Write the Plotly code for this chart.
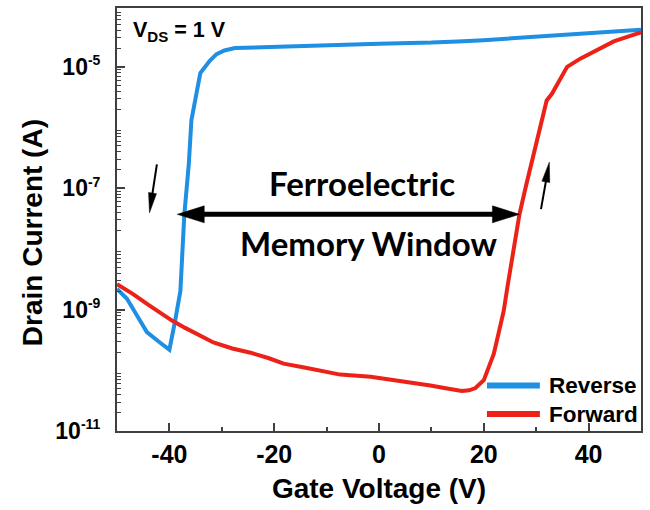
import math
import plotly.graph_objects as go

# ---------------- data ----------------
reverse_vg = [50, 45, 40, 35, 30, 25, 20, 15, 10, 0, -10, -18, -22, -25, -27.5, -29.5, -31, -32.3,
              -33.3, -34.1, -35.8, -36.3, -37.15, -37.55, -37.9, -38.9, -40.0, -41.7, -44.3,
              -46.5, -48.1, -50]
reverse_id = [4.07e-5, 3.8e-5, 3.55e-5, 3.3e-5, 3.09e-5, 2.92e-5, 2.75e-5, 2.63e-5, 2.51e-5, 2.4e-5,
              2.29e-5, 2.21e-5, 2.16e-5, 2.11e-5, 2.04e-5, 1.86e-5, 1.62e-5, 1.26e-5, 9.5e-6, 7.9e-6,
              1.32e-6, 2.5e-7, 3.7e-8, 6.3e-9, 2.04e-9, 6.6e-10, 2.19e-10, 2.82e-10, 4.27e-10,
              8.9e-10, 1.51e-9, 2.19e-9]

forward_vg = [-50, -47, -44, -41, -39.5, -37, -34, -31.6, -28, -24.5, -21, -18.2, -14, -10, -7.4,
              -1.6, 4.7, 9.8, 13, 15.8, 17.2, 18.4, 20.0, 21.0, 21.9, 22.8, 23.8, 24.5, 25.4, 26.8,
              28.0, 28.9, 30.0, 30.8, 32.0, 33.0, 34.0, 35.9, 38.5, 41.0, 44.8, 47.5, 50]
forward_id = [2.63e-9, 1.82e-9, 1.2e-9, 8.1e-10, 6.6e-10, 5.0e-10, 3.7e-10, 2.88e-10, 2.29e-10,
              1.95e-10, 1.58e-10, 1.29e-10, 1.1e-10, 9.3e-11, 8.5e-11, 7.8e-11, 6.6e-11, 5.6e-11,
              5.0e-11, 4.57e-11, 4.68e-11, 5.1e-11, 6.9e-11, 1.12e-10, 1.86e-10, 4.0e-10, 9.5e-10,
              2.34e-9, 7.1e-9, 3.7e-8, 1.05e-7, 2.14e-7, 5.4e-7, 1.1e-6, 2.8e-6, 3.6e-6, 5.0e-6,
              1.0e-5, 1.38e-5, 1.78e-5, 2.63e-5, 3.16e-5, 3.7e-5]

series_names = ["Reverse", "Forward"]
x_tick_vals = [-40, -20, 0, 20, 40]
x_tick_text = ["-40", "-20", "0", "20", "40"]
y_decades = list(range(-11, -3))
y_labelled = [-11, -9, -7, -5]

# ---------------- style ----------------
BLUE = "#1E8FE3"
RED = "#EC2218"
AXIS = "#404040"
FONT = "Liberation Sans, Arial, sans-serif"
ANNOT_FONT = "Lato, Open Sans, sans-serif"
Y_RANGE = [-11, -4.03]

fig = go.Figure()
fig.add_trace(go.Scatter(x=reverse_vg, y=reverse_id, mode="lines", name=series_names[0],
                         line=dict(color=BLUE, width=4), showlegend=False))
fig.add_trace(go.Scatter(x=forward_vg, y=forward_id, mode="lines", name=series_names[1],
                         line=dict(color=RED, width=4), showlegend=False))

y_tickvals = [10.0 ** e for e in y_labelled]
y_ticktext = [f"10<sup><span style='font-size:14px'>{e}</span></sup>" for e in y_labelled]
y_plain_decades = [10.0 ** e for e in y_decades if e not in y_labelled]
y_minor = [k * 10.0 ** e for e in y_decades[:-1] for k in range(2, 10)]

fig.update_xaxes(range=[-50, 50], tickmode="array", tickvals=x_tick_vals, ticktext=x_tick_text,
                 ticks="inside", ticklen=8, tickwidth=1.5, tickcolor=AXIS,
                 minor=dict(dtick=10, ticks="inside", ticklen=4, tickwidth=1.5, tickcolor=AXIS),
                 showline=True, linecolor=AXIS, linewidth=2, mirror=True, showgrid=False,
                 zeroline=False, ticklabelstandoff=0,
                 tickfont=dict(family=FONT, size=25, color="black", weight="bold"),
                 title=dict(text="Gate Voltage (V)", standoff=11,
                            font=dict(family=FONT, size=28, color="black", weight="bold")))
fig.update_yaxes(type="log", range=Y_RANGE, tickmode="array", tickvals=y_tickvals,
                 ticktext=y_ticktext, ticks="inside", ticklen=8, tickwidth=1.5, tickcolor=AXIS,
                 minor=dict(tickmode="array", tickvals=y_minor, ticks="inside", ticklen=4,
                            tickwidth=1.2, tickcolor=AXIS),
                 showline=True, linecolor=AXIS, linewidth=2, mirror=True, showgrid=False,
                 zeroline=False, ticklabelstandoff=10,
                 tickfont=dict(family=FONT, size=23, color="black", weight="bold"))

# unlabelled decade ticks (long ticks at 1e-10, 1e-8, 1e-6)
fig.update_layout(yaxis2=dict(overlaying="y", side="left", type="log", range=Y_RANGE,
                              tickmode="array", tickvals=y_plain_decades, ticks="inside",
                              ticklen=8, tickwidth=1.5, tickcolor=AXIS, showticklabels=False,
                              showline=False, showgrid=False, zeroline=False))


def arrow_shapes(tip_x, tip_y, dx, dy, head_len, head_w, lw, color="black"):
    """Arrow whose tip is at data point (tip_x, tip_y); tail offset (dx, dy) in pixels (y up)."""
    L = math.hypot(dx, dy)
    ux, uy = dx / L, dy / L
    nx, ny = -uy, ux
    bx, by = ux * head_len, uy * head_len
    c1 = (bx + nx * head_w / 2, by + ny * head_w / 2)
    c2 = (bx - nx * head_w / 2, by - ny * head_w / 2)
    common = dict(type="path", xref="x", yref="y", xsizemode="pixel", ysizemode="pixel",
                  xanchor=tip_x, yanchor=tip_y)
    shapes = []
    if L > head_len:
        shapes.append(dict(path=f"M{bx * 0.6:.2f},{by * 0.6:.2f} L{dx:.2f},{dy:.2f}",
                           line=dict(color=color, width=lw), **common))
    shapes.append(dict(path=f"M0,0 L{c1[0]:.2f},{c1[1]:.2f} L{c2[0]:.2f},{c2[1]:.2f} Z",
                       fillcolor=color, line=dict(color=color, width=0.5), **common))
    return shapes


# memory-window double arrow
mw_left, mw_right, mw_level = -38.5, 26.8, 10 ** -7.43
shapes = [dict(type="line", xref="x", yref="y", x0=mw_left + 2, x1=mw_right - 2,
               y0=mw_level, y1=mw_level, line=dict(color="black", width=5))]
shapes += arrow_shapes(mw_left, mw_level, 1, 0, 27, 17, 5)
shapes += arrow_shapes(mw_right, mw_level, -1, 0, 27, 17, 5)
# sweep direction arrows
shapes += arrow_shapes(-43.8, 10 ** -7.405, 7.4, 48.4, 20, 8, 2)
shapes += arrow_shapes(32.5, 10 ** -6.57, -8.3, -47, 20, 8, 2)

# custom legend samples (paper coords)
legend_rows = [(series_names[0], BLUE, 0.1075), (series_names[1], RED, 0.04)]
annotations = []
for name, col, yy in legend_rows:
    shapes.append(dict(type="line", xref="paper", yref="paper", x0=0.706, x1=0.807, y0=yy, y1=yy,
                       line=dict(color=col, width=6)))
    annotations.append(dict(text=name, xref="paper", yref="paper", x=0.8206, y=yy,
                            xanchor="left", yanchor="middle", showarrow=False,
                            font=dict(family=FONT, size=22.5, color="black", weight="bold")))

annotations += [
    dict(text="Drain Current (A)", xref="paper", yref="paper", x=-0.162, y=0.468,
         xanchor="center", yanchor="middle", textangle=-90, showarrow=False,
         font=dict(family=FONT, size=28, color="black", weight="bold")),
    dict(text="V<sub>DS</sub> = 1 V", xref="paper", yref="paper", x=0.026, y=0.945,
         xanchor="left", yanchor="middle", showarrow=False,
         font=dict(family=FONT, size=21.5, color="black", weight="bold")),
    dict(text="Ferroelectric", xref="paper", yref="paper", x=0.4668, y=0.586,
         xanchor="center", yanchor="middle", showarrow=False,
         font=dict(family=ANNOT_FONT, size=33, color="black", weight="bold")),
    dict(text="Memory Window", xref="paper", yref="paper", x=0.4809, y=0.445,
         xanchor="center", yanchor="middle", showarrow=False,
         font=dict(family=ANNOT_FONT, size=33, color="black", weight="bold")),
]

fig.update_layout(width=650, height=510, margin=dict(l=117, r=9, t=6, b=79),
                  paper_bgcolor="white", plot_bgcolor="white", showlegend=False,
                  shapes=shapes, annotations=annotations)

fig.write_html("out.html")
